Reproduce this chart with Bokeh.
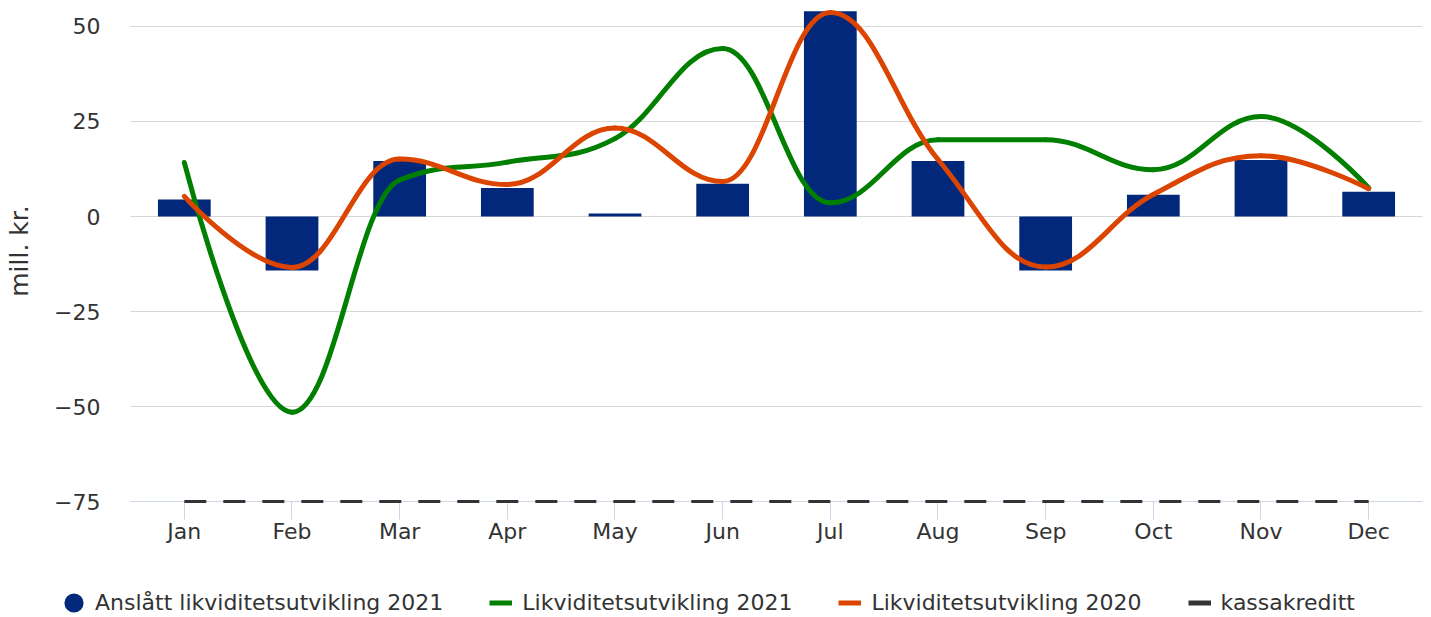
from bokeh.plotting import figure
from bokeh.models import Range1d, FixedTicker, Legend, LegendItem, LinearAxis
from bokeh.embed import file_html
from bokeh.resources import INLINE

months = ["Jan", "Feb", "Mar", "Apr", "May", "Jun", "Jul", "Aug", "Sep", "Oct", "Nov", "Dec"]
anslatt_2021 = [4.5, -14.2, 14.6, 7.5, 0.8, 8.6, 54.0, 14.6, -14.2, 5.7, 14.9, 6.5]
likv_2021 = [14.2, -51.5, 9.6, 14.3, 20.5, 44.2, 3.6, 20.2, 20.2, 12.3, 26.3, 7.5]
likv_2020 = [5.3, -13.4, 15.1, 8.4, 23.3, 9.2, 53.7, 15.0, -13.3, 5.8, 16.0, 7.3]
kassakreditt = [-75, -75, -75, -75, -75, -75, -75, -75, -75, -75, -75, -75]
y_ticks = [-75, -50, -25, 0, 25, 50]

NAVY = "#01287a"
GREEN = "#007f00"
ORANGE = "#db4401"
DARK = "#333333"
FONT = "DejaVu Sans"

xs = list(range(len(months)))
X_LO, X_HI = -0.5, 11.5          # category extent
Y_LO, Y_HI = -75, 56.84           # plotted value extent


def spline_controls(x, y, smoothing=1.5):
    """Highcharts-style spline control points for a series."""
    n = len(x)
    denom = smoothing + 1
    left = [(x[i], y[i]) for i in range(n)]
    right = [(x[i], y[i]) for i in range(n)]
    for i in range(1, n - 1):
        px, py = x[i], y[i]
        lx, ly = x[i - 1], y[i - 1]
        nx, ny = x[i + 1], y[i + 1]
        lcx = (smoothing * px + lx) / denom
        lcy = (smoothing * py + ly) / denom
        rcx = (smoothing * px + nx) / denom
        rcy = (smoothing * py + ny) / denom
        if rcx != lcx:
            corr = ((rcy - lcy) * (rcx - px)) / (rcx - lcx) + py - rcy
            lcy += corr
            rcy += corr
            if lcy > ly and lcy > py:
                lcy = max(ly, py)
                rcy = 2 * py - lcy
            elif lcy < ly and lcy < py:
                lcy = min(ly, py)
                rcy = 2 * py - lcy
            if rcy > ny and rcy > py:
                rcy = max(ny, py)
                lcy = 2 * py - rcy
            elif rcy < ny and rcy < py:
                rcy = min(ny, py)
                lcy = 2 * py - rcy
        left[i] = (lcx, lcy)
        right[i] = (rcx, rcy)
    seg = dict(x0=[], y0=[], x1=[], y1=[], cx0=[], cy0=[], cx1=[], cy1=[])
    for i in range(1, n):
        seg["x0"].append(x[i - 1]); seg["y0"].append(y[i - 1])
        seg["x1"].append(x[i]); seg["y1"].append(y[i])
        seg["cx0"].append(right[i - 1][0]); seg["cy0"].append(right[i - 1][1])
        seg["cx1"].append(left[i][0]); seg["cy1"].append(left[i][1])
    return seg


# frame covers the whole canvas; axes sit at fixed data locations inside it
p = figure(width=1431, height=617,
           x_range=Range1d(-1.7074, 11.5836), y_range=Range1d(-105.526, 56.842),
           x_axis_location=None, y_axis_location=None,
           output_backend="svg", toolbar_location=None,
           min_border_left=0, min_border_right=0, min_border_top=0, min_border_bottom=0)
p.outline_line_color = None
p.background_fill_color = "white"
p.grid.visible = False

# horizontal grid lines across the category extent
p.segment(x0=X_LO, x1=X_HI, y0=y_ticks, y1=y_ticks, line_color="#d6d6d6", line_width=1)

# bars
p.vbar(x=xs, top=anslatt_2021, bottom=0, width=0.49, fill_color=NAVY, line_color=None)

# splines
g = spline_controls(xs, likv_2021)
p.bezier(line_color=GREEN, line_width=5, line_cap="round", **g)
o = spline_controls(xs, likv_2020)
p.bezier(line_color=ORANGE, line_width=5, line_cap="round", **o)

# kassakreditt
r_kk = p.line(xs, kassakreditt, line_color=DARK, line_width=3, line_dash="22 17")
r_kk.level = "overlay"

# hidden renderers that only supply the legend symbols
l_bar = p.scatter(xs, anslatt_2021, marker="circle", fill_color=NAVY, line_color=NAVY,
                  line_width=10, visible=False)
l_green = p.line(xs, likv_2021, line_color=GREEN, line_width=5, visible=False)
l_orange = p.line(xs, likv_2020, line_color=ORANGE, line_width=5, visible=False)
l_kk = p.line(xs, kassakreditt, line_color=DARK, line_width=5, visible=False)

# x axis at -75
xa = LinearAxis(fixed_location=Y_LO, bounds=(X_LO, X_HI))
xa.ticker = FixedTicker(ticks=xs)
xa.major_label_overrides = {i: m for i, m in enumerate(months)}
xa.major_tick_out = 18
xa.major_tick_in = 0
xa.minor_tick_line_color = None
xa.major_tick_line_color = "#ccd6eb"
xa.axis_line_color = "#ccd6eb"
xa.major_label_standoff = -1
xa.major_label_text_font = FONT
xa.major_label_text_font_size = "22px"
xa.major_label_text_color = DARK
p.add_layout(xa, "below")

# y axis at the left edge of the categories
ya = LinearAxis(fixed_location=X_LO, bounds=(Y_LO, Y_HI))
ya.ticker = FixedTicker(ticks=y_ticks)
ya.major_label_overrides = {t: (str(t).replace("-", "\u2212")) for t in y_ticks}
ya.major_tick_out = 0
ya.major_tick_in = 0
ya.minor_tick_line_color = None
ya.axis_line_color = None
ya.major_label_standoff = 30
ya.major_label_text_font = FONT
ya.major_label_text_font_size = "22px"
ya.major_label_text_color = DARK
ya.axis_label = "mill. kr."
ya.axis_label_text_font = FONT
ya.axis_label_text_font_size = "25px"
ya.axis_label_text_font_style = "normal"
ya.axis_label_text_color = DARK
ya.axis_label_standoff = 17
p.add_layout(ya, "left")

legend = Legend(items=[LegendItem(label="Anslått likviditetsutvikling 2021", renderers=[l_bar]),
                       LegendItem(label="Likviditetsutvikling 2021", renderers=[l_green]),
                       LegendItem(label="Likviditetsutvikling 2020", renderers=[l_orange]),
                       LegendItem(label="kassakreditt", renderers=[l_kk])],
                location=(62, 2), orientation="horizontal",
                glyph_width=23, glyph_height=23, label_height=20, label_standoff=10, spacing=46,
                padding=0, margin=0, border_line_color=None, background_fill_alpha=0,
                label_text_font=FONT, label_text_font_size="22px", label_text_color=DARK)
p.add_layout(legend)

open("out.html", "w").write(file_html(p, INLINE))
